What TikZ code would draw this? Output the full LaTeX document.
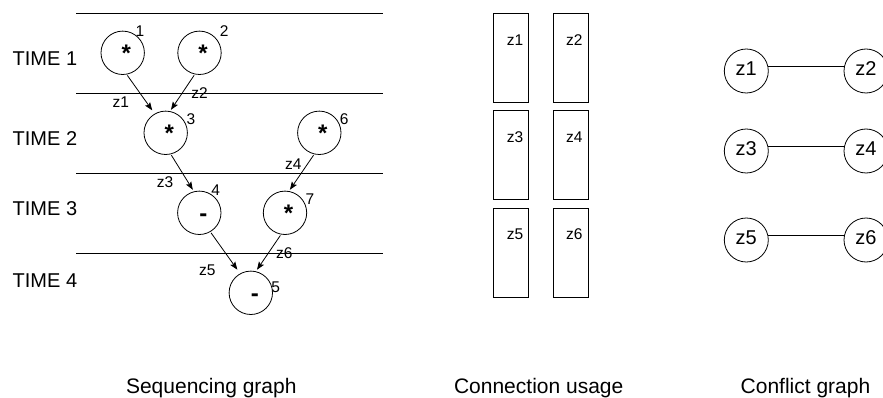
\documentclass[tikz,border=0pt]{standalone}
\usepackage{fontspec}
\setmainfont{Liberation Sans}
\usetikzlibrary{arrows.meta,calc}
\begin{document}
\begin{tikzpicture}[x=1pt,y=-1pt,
  every node/.style={inner sep=0pt,outer sep=0pt},
  big/.style={font=\fontsize{20}{24}\selectfont},
  bottomlbl/.style={font=\fontsize{21}{25}\selectfont,anchor=base},
  small/.style={font=\fontsize{15.5}{18}\selectfont},
  op/.style={draw,circle,minimum size=43.4pt,line width=0.8pt,
    font=\fontsize{24}{28}\selectfont\bfseries,text height=17.5pt,text depth=0pt},
  cnode/.style={draw,circle,minimum size=44pt,line width=0.8pt,
    font=\fontsize{20}{24}\selectfont,text depth=5pt},
  rbox/.style={draw,rectangle,minimum width=35pt,minimum height=88.7pt,line width=0.8pt},
  arr/.style={-{Stealth[length=8pt,width=6pt,inset=1.5pt]},line width=0.8pt},
  rule/.style={line width=0.8pt},
  cedge/.style={line width=0.8pt}
]
\useasboundingbox (0,0) rectangle (883,398);

% time rules
\draw[rule] (76,13) -- (383,13);
\draw[rule] (76,93) -- (383,93);
\draw[rule] (76,173) -- (383,173);
\draw[rule] (76,253) -- (383,253);

% time labels
\node[big,anchor=west] (t1) at (12.7,58.5) {TIME 1};
\node[big,anchor=west] (t2) at (12.7,139) {TIME 2};
\node[big,anchor=west] (t3) at (12.7,209) {TIME 3};
\node[big,anchor=west] (t4) at (12.7,280.8) {TIME 4};

% operation nodes
\node[op] (n1) at (122.7,52.8) {\hspace*{7pt}*};
\node[op] (n2) at (199.5,52.8) {\hspace*{7pt}*};
\node[op] (n3) at (165.7,132.8) {\hspace*{7pt}*};
\node[op] (n6) at (319.3,132.8) {\hspace*{7pt}*};
\node[op] (n4) at (199.3,212.8) {\hspace*{8pt}-};
\node[op] (n7) at (285,212.8) {\hspace*{7pt}*};
\node[op] (n5) at (250.8,292.8) {\hspace*{8pt}-};

% node numbers
\node[small] (k1) at (140,31) {1};
\node[small] (k2) at (224.3,31) {2};
\node[small] (k3) at (191,119.3) {3};
\node[small] (k6) at (344.3,119.3) {6};
\node[small] (k4) at (215.7,190) {4};
\node[small] (k7) at (310,199.3) {7};
\node[small] (k5) at (275.7,287.3) {5};

% arrows
\draw[arr,shorten <=1.5pt,shorten >=4.5pt] (n1.-80) -- (n3.120);
\draw[arr,shorten <=1.5pt,shorten >=2pt] (n2.-102) -- (n3.79);
\draw[arr,shorten <=1.5pt,shorten >=2.3pt] (n3.-77) -- (n4.104);
\draw[arr,shorten <=1.5pt,shorten >=2pt] (n6.-103) -- (n7.80);
\draw[arr,shorten <=1.5pt,shorten >=5pt] (n4.-60) -- (n5.119);
\draw[arr,shorten <=1.5pt,shorten >=2.3pt] (n7.-100) -- (n5.77);

% edge labels
\node[small] (e1) at (120.7,101.7) {z1};
\node[small] (e2) at (199.5,92.8) {z2};
\node[small] (e3) at (165,181.7) {z3};
\node[small] (e4) at (293.3,164) {z4};
\node[small] (e5) at (207.3,270) {z5};
\node[small] (e6) at (284.3,252.8) {z6};

% connection usage
\node[rbox] (r1) at (510.8,57.7) {};
\node[rbox] (r2) at (570.8,57.7) {};
\node[rbox] (r3) at (510.8,155) {};
\node[rbox] (r4) at (570.8,155) {};
\node[rbox] (r5) at (510.8,252.8) {};
\node[rbox] (r6) at (570.8,252.8) {};
\node[small] (u1) at (515,40) {z1};
\node[small] (u2) at (574.3,40) {z2};
\node[small] (u3) at (515,136.7) {z3};
\node[small] (u4) at (574.3,136.7) {z4};
\node[small] (u5) at (515,234.3) {z5};
\node[small] (u6) at (574.3,234.3) {z6};

% conflict graph
\node[cnode] (c1) at (746.3,71) {z1};
\node[cnode] (c2) at (866,71) {z2};
\node[cnode] (c3) at (746.3,151) {z3};
\node[cnode] (c4) at (866,151) {z4};
\node[cnode] (c5) at (746.3,240) {z5};
\node[cnode] (c6) at (866,240) {z6};
\draw[cedge] (c1.12) -- (c2.168);
\draw[cedge] (c3.12) -- (c4.168);
\draw[cedge] (c5.12) -- (c6.168);

% captions
\node[bottomlbl] (cap1) at (211.3,393) {Sequencing graph};
\node[bottomlbl] (cap2) at (538.7,393) {Connection usage};
\node[bottomlbl] (cap3) at (805.5,393) {Conflict graph};
\end{tikzpicture}
\end{document}
